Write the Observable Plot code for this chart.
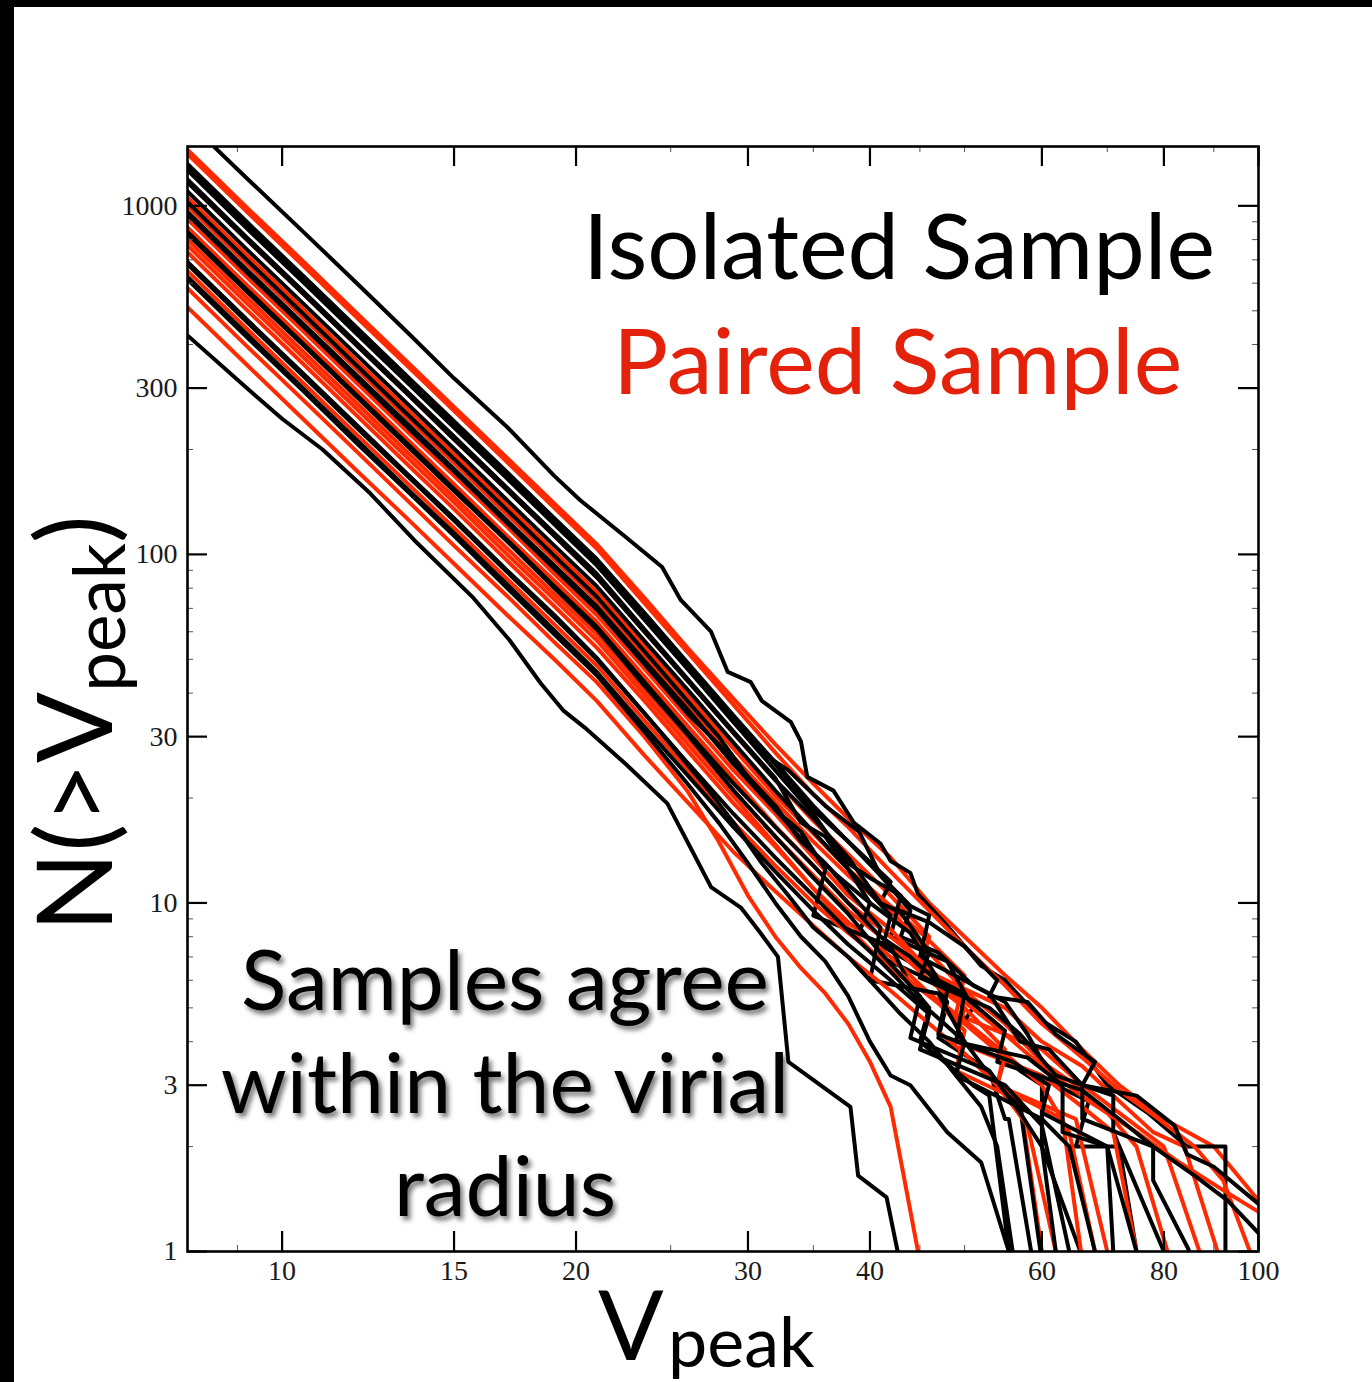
<!DOCTYPE html>
<html>
<head>
<meta charset="utf-8">
<script src="https://cdn.jsdelivr.net/npm/d3@7"></script>
<script src="https://cdn.jsdelivr.net/npm/@observablehq/plot@0.6"></script>
<style>
  html, body { margin: 0; padding: 0; background: #fff; }
  #wrap { position: relative; width: 1372px; height: 1382px; overflow: hidden; background: #fff; }
  #chart { position: absolute; left: 0; top: 0; }
  .bar { position: absolute; background: #000; }
  .ann { position: absolute; white-space: nowrap; font-family: Lato, "Open Sans", sans-serif; line-height: 1; }
  .shadow { text-shadow: 3px 4px 5px rgba(0,0,0,0.55); }
</style>
</head>
<body>
<div id="wrap">
  <div id="chart"></div>
  <div class="bar" style="left:0;top:0;width:1372px;height:7px"></div>
  <div class="bar" style="left:0;top:0;width:14px;height:1382px"></div>
  <div class="ann" style="left:583px;top:198px;font-size:92px;color:#000">Isolated Sample</div>
  <div class="ann" style="left:613px;top:313px;font-size:92px;color:#e4220c">Paired Sample</div>
  <div class="ann shadow" style="left:205px;top:926px;width:600px;text-align:center;font-size:84px;line-height:103px;color:#000">Samples agree<br>within the virial<br>radius</div>
  <div class="ann" style="left:598px;top:1274px;font-size:97px;color:#000">V</div>
  <div class="ann" style="left:668px;top:1305px;font-size:70px;color:#000">peak</div>
  <div class="ann" style="left:19px;top:932px;font-size:105px;color:#000;transform:rotate(-90deg);transform-origin:0 0">N(&gt;V<span style="font-size:71px;position:relative;top:13px">peak</span>)</div>
</div>
<script>
// ---- data: cumulative counts N(>Vpeak) ----
const isolatedRuns = [
  [[8,1750],[9.2,1200],[10.5,845],[12,590],[13.5,428],[15,320],[17,232],[19,168],[20.2,143],[22.5,112],[24.5,92],[25.6,74],[27.5,60],[28.6,46],[30.2,43],[31,38],[33.2,33],[34,29],[34.5,23],[36.7,21],[38.5,17],[41,14.8],[42,13.2],[44,12.2],[44.8,10.6],[48,8.6],[52,6.6],[55,6.0],[60,4.6],[65,4.0],[70,3.0],[77,2.5],[84.5,2.0],[92.5,2.0],[92.5,1]],
  [[8,425],[9.2,300],[10,245],[11,200],[12.3,150],[13.65,110],[15.7,75],[17.1,56.7],[18.4,42.7],[19.4,35.7],[20.4,31.9],[22.5,25],[24.8,19.3],[26.2,14.4],[27.5,11.1],[29.5,9.7],[30.9,8.2],[32.2,7.0],[33,3.5],[38.2,2.6],[38.9,1.65],[41.6,1.43],[42.7,1]],
  [[8,1318],[9.2,900],[10.5,631],[12,440],[13.5,320],[15,241],[17,172],[19,127],[21,97],[23.5,68],[26,49],[29,34.5],[32,25.3],[35,19],[38,15],[42,11.5],[41,10],[46,8.8],[50,7.5],[54,6.0],[53,5.4],[58,5.2],[62,4.2],[68,3.5],[66,3.0],[75,2.8],[82,2.3],[84.5,1.9],[90,1.75],[100,1.37]],
  [[8,1300],[9.2,888],[10.5,623],[12,434],[13.5,316],[15,238],[17,170],[19,126],[21,96],[23.5,67],[26,48],[29,34],[32,25],[35,18.5],[38,15],[41,12],[44,9.5],[43,8],[47,7.2],[51,5.8],[55,5.2],[58,4.2],[62,3.0],[67,2.7],[65,2.0],[72,2.0],[75,1]],
  [[8,1280],[9.2,875],[10.5,614],[12,428],[13.5,312],[15,235],[17,167],[19,124],[21,94.5],[23.5,66],[26,47.5],[29,33],[32,24],[35,18],[38,13],[40,11.8],[43,10.5],[42,8],[48,6.8],[51,5],[50,4.6],[57,3.3],[60,3.0],[60,2.0],[65.7,1]],
  [[8,1265],[9.2,862],[10.5,605],[12,422],[13.5,307],[15,231],[17,165],[19,122],[21,93],[23.5,65],[26,47],[29,33],[31,27],[33,24],[36,19],[39,16],[41,12],[44,9.8],[46,9.2],[45,7],[53,5.5],[57,4.0],[61,3.8],[66,3.0],[71,2.8],[71,2.2],[80,1]],
  [[8,1190],[9.2,812],[10.5,570],[12,397],[13.5,289],[15,218],[17,155],[19,115],[21,88],[23.5,61],[26,44],[29,31],[32,22.8],[34,17],[36,15.5],[38,12.5],[40,10],[39,8.2],[46,6.3],[48,5.2],[47,4.1],[53,3.3],[55,2.4],[55.5,2.4],[58.5,1]],
  [[8,1170],[9.2,800],[10.5,561],[12,391],[13.5,285],[15,214],[17,153],[19,113],[21,86],[23.5,60],[26,43.5],[29,30.7],[32,22.5],[35,17.5],[38,13.5],[41,10],[43,9.4],[46,7.2],[45,6.1],[53,5],[57,4.2],[62,3.2],[66,3.0],[66,2.4],[78,2.0],[86,1.65],[93,1.4],[100,1.13]],
  [[8,1100],[9.2,750],[10.5,526],[12,367],[13.5,267],[15,201],[17,143],[19,106],[21,81],[23.5,56.5],[26,41],[29,28.8],[32,21],[35,16],[38,12.5],[42,9.2],[41,7],[50,5.4],[55,4.3],[54,3.5],[66,2.9],[72,2.4],[78,2.0],[78,1.6],[85,1]],
  [[8,1025],[9.2,700],[10.5,491],[12,342],[13.5,249],[15,188],[17,134],[19,99],[21,75.6],[23.5,52.7],[26,38],[28,30],[30,23],[32,18.5],[34,16],[36,12.5],[35,9.2],[42,7.5],[44,5.8],[46,5],[45,4],[51,3],[53,2.8],[55.5,1]],
  [[8,960],[9.2,656],[10.5,460],[12,321],[13.5,234],[15,176],[17,125],[19,93],[21,71],[23.5,49.5],[26,36],[29,25],[32,18.5],[35,14],[37,12],[40,10],[44,8.2],[47,6],[50,5.5],[49,4],[58,3.6],[63,3.0],[63,2.2],[70,2.0],[71,1]],
  [[8,945],[9.2,645],[10.5,452],[12,315],[13.5,229],[15,173],[17,123],[19,91],[21,69.5],[23.5,48.5],[26,35],[28,28.5],[30,23],[32,19],[34,15],[36,13],[39,10],[41,8.5],[40,6],[47,5.5],[50,4],[54,3],[57,2.6],[59.8,1]],
  [[8,842],[9.2,575],[10.5,403],[12,281],[13.5,205],[15,154],[17,110],[19,81],[21,62],[23.5,43],[26,31],[29,22],[32,16.5],[35,12.8],[38,10],[41,8],[44,7],[48,5.6],[47,4.2],[56,3.5],[61,3.0],[60,2.5],[70,2.0],[75,1]],
  [[8,830],[9.2,568],[10.5,399],[12,278],[13.5,202],[15,152],[17,109],[19,80],[21,61],[23.5,42],[26,30.5],[29,21],[32,15.5],[35,11.8],[38,9.3],[41,7.2],[45,5.4],[44,4.1],[53,3.3],[57,2.5],[60,2.0],[62,1]],
  [[8,690],[9.2,472],[10.5,331],[12,231],[13.5,168],[15,127],[17,90],[19,67],[21,50.5],[23.5,35],[25,28.5],[27,22],[29,17],[31,13],[33,10.5],[35,8.5],[38,7],[40,6],[43,4.8],[46,4.0],[49,3.2],[52,2.6],[54,2.0],[56,1]],
  [[8,680],[9.2,465],[10.5,326],[12,227],[13.5,166],[15,125],[17,89],[19,66],[21,50],[23.5,35],[26,25.3],[29,18],[32,13.5],[35,10.5],[38,8.3],[41,6.8],[45,5.2],[50,4.0],[49,3.2],[60,2.4],[64,2.0],[68,1]],
  [[8,625],[9.2,428],[10.5,300],[12,209],[13.5,152],[15,115],[17,82],[19,60.5],[21,46],[23.5,32],[26,23.3],[29,16.5],[32,12.3],[35,9.5],[38,7.6],[42,6],[46,4.8],[45,3.8],[55,3.0],[60,2.3],[64,1]],
  [[8,615],[9.2,420],[10.5,295],[12,205],[13.5,150],[15,113],[17,80],[19,59],[21,45],[23.5,31],[26,22],[28,17],[30,13],[32,10],[34,8],[36,6.8],[38,5.4],[40,4.0],[42,3.2],[44,3.0],[48,2.2],[52,1.8],[55.5,1]]
];

const pairedRuns = [
  [[8,1450],[9.2,990],[10.5,695],[12,484],[13.5,352],[15,265],[17,189],[19,140],[21,107],[23.5,75],[26,54],[29,38.5],[32,28.5],[35,22],[38,17.5],[42,13.5],[46,10],[50,8],[55,6.2],[60,5],[66,3.8],[72,3.0],[80,2.4],[90,2.0],[100,1.4]],
  [[8,1410],[9.2,963],[10.5,675],[12,470],[13.5,343],[15,258],[17,184],[19,136],[21,104],[23.5,72.5],[26,52.5],[29,37],[32,27],[35,20.5],[38,16.5],[42,12.3],[46,9.5],[50,7.5],[55,5.8],[60,4.5],[66,3.6],[72,2.9],[79,2.4],[86,2.0],[92,1.6],[98,1]],
  [[8,1170],[9.2,800],[10.5,561],[12,391],[13.5,285],[15,214],[17,153],[19,113],[21,86],[23.5,60],[26,43.6],[29,30.7],[32,22.5],[35,17.2],[38,13.8],[42,10.5],[46,8],[45,6.5],[55,5],[60,4],[66,3.4],[72,2.7],[78,2.2],[84,2.0],[90.8,1]],
  [[8,1057],[9.2,722],[10.5,507],[12,353],[13.5,257],[15,194],[17,138],[19,102],[21,78],[23.5,54.5],[26,39.4],[29,27.7],[32,20.3],[35,15.8],[38,12.5],[42,9.8],[46,7.8],[50,6.2],[49,4.8],[60,3.8],[66,3.0],[72,2.5],[80,2.0],[87,1]],
  [[8,1000],[9.2,682],[10.5,479],[12,334],[13.5,243],[15,183],[17,130],[19,96.6],[21,73.7],[23.5,51.4],[26,37.2],[29,26.2],[32,19.5],[35,15],[38,12],[42,9.5],[46,7.2],[50,5.6],[55,4.5],[60,3.5],[65,3.0],[70,2.5],[75,2.0],[80.7,1]],
  [[8,915],[9.2,625],[10.5,438],[12,305],[13.5,222],[15,168],[17,120],[19,88],[21,67],[23.5,47],[26,34],[29,24],[32,18],[35,13.5],[38,10.5],[42,8.4],[46,6.4],[50,5],[55,3.8],[54,3],[63,2.4],[65.8,1]],
  [[8,867],[9.2,593],[10.5,416],[12,290],[13.5,211],[15,159],[17,113],[19,84],[21,64],[23.5,44.6],[26,32.3],[29,22.8],[32,16.6],[35,12.8],[38,10],[42,8],[46,6.5],[50,5.2],[55,4.2],[60,3.4],[67,2.7],[75,2.2],[83,1.8],[92,1.5],[100,1.3]],
  [[8,800],[9.2,546],[10.5,383],[12,267],[13.5,194],[15,146],[17,104],[19,77],[21,59],[23.5,41],[26,29.8],[29,21],[32,15.5],[35,12],[38,9.5],[42,7.6],[46,6],[50,5],[49,4],[60,3.2],[66,2.6],[71,2.2],[75,1]],
  [[8,770],[9.2,526],[10.5,369],[12,257],[13.5,187],[15,141],[17,100],[19,74.3],[21,56.7],[23.5,39.5],[26,28.6],[29,20.2],[32,14.7],[35,11],[38,8.5],[42,6.4],[46,5.5],[50,4.6],[55,3.7],[60,3.0],[64,2.2],[68,1]],
  [[8,736],[9.2,503],[10.5,353],[12,246],[13.5,179],[15,135],[17,96],[19,71],[21,54],[23.5,38],[26,27.4],[29,19.3],[32,14.5],[35,11],[38,8.8],[42,7],[46,5.5],[50,4.3],[49,3.3],[57,2.7],[60,1]],
  [[8,650],[9.2,444],[10.5,311],[12,217],[13.5,158],[15,119],[17,85],[19,63],[21,48],[23.5,33.4],[26,24.2],[29,17],[32,12.8],[35,10],[38,8.2],[42,6.6],[46,5.4],[50,4.5],[55,3.6],[54,3.0],[65,2.4],[70,1]],
  [[8,580],[9.2,396],[10.5,278],[12,194],[13.5,141],[15,106],[17,76],[19,56],[21,43],[23.5,30],[26,21],[28,15],[30,10.5],[32,8],[34,6.5],[36,5.5],[38,4.5],[40,3.5],[42,2.6],[44.8,1]],
  [[8,512],[9.2,350],[10.5,245],[12,171],[13.5,125],[15,94],[17,67],[19,50],[21,38],[23.5,26.5],[26,19.5],[29,14],[32,10.8],[35,8.6],[38,7],[42,5.6],[46,4.5],[50,3.7],[54,3],[58,2.3],[62,1]]
];

const xTickValues = [10, 15, 20, 30, 40, 60, 80, 100];
const xMinorValues = [9, 25, 35, 45, 50, 70, 90];
const yTickValues = [1, 3, 10, 30, 100, 300, 1000];
const yMinorValues = [2, 4, 5, 6, 7, 8, 9, 20, 40, 50, 60, 70, 80, 90, 200, 400, 500, 600, 700, 800, 900];

const isolatedColor = "#000000";
const pairedColor = "#ff2a00";

// ---- build tables ----
const toRows = (run, id) => run.map(([V, N]) => ({V, N, id}));
const lineMarks = [];
const nMax = Math.max(isolatedRuns.length, pairedRuns.length);
for (let i = 0; i < nMax; i++) {
  if (i < pairedRuns.length)
    lineMarks.push(Plot.line(toRows(pairedRuns[i], "p" + i), {x: "V", y: "N", stroke: pairedColor, strokeWidth: 4, strokeLinejoin: "round", clip: true}));
  if (i < isolatedRuns.length)
    lineMarks.push(Plot.line(toRows(isolatedRuns[i], "i" + i), {x: "V", y: "N", stroke: isolatedColor, strokeWidth: 4, strokeLinejoin: "round", clip: true}));
}

const W = 1372, H = 1382;
const mL = 187, mT = 146, mR = 114, mB = 131;
const plotW = W - mL - mR, plotH = H - mT - mB;
const major = 20, minor = 6;

const chart = Plot.plot({
  width: W, height: H,
  marginLeft: mL, marginTop: mT, marginRight: mR, marginBottom: mB,
  x: {type: "log", domain: [8, 100]},
  y: {type: "log", domain: [1, 1480]},
  style: {background: "transparent", fontFamily: "'Liberation Serif', 'DejaVu Serif', serif", fontSize: "28px", color: "#1a1a1a"},
  marks: [
    ...lineMarks,
    Plot.ruleX(xTickValues, {stroke: "#000", strokeWidth: 2.2, insetTop: plotH - major}),
    Plot.ruleX(xTickValues, {stroke: "#000", strokeWidth: 2.2, insetBottom: plotH - major}),
    Plot.ruleY(yTickValues, {stroke: "#000", strokeWidth: 2.2, insetRight: plotW - major}),
    Plot.ruleY(yTickValues, {stroke: "#000", strokeWidth: 2.2, insetLeft: plotW - major}),
    Plot.ruleX(xMinorValues, {stroke: "#555", strokeWidth: 1, insetTop: plotH - minor}),
    Plot.ruleX(xMinorValues, {stroke: "#555", strokeWidth: 1, insetBottom: plotH - minor}),
    Plot.ruleY(yMinorValues, {stroke: "#555", strokeWidth: 1, insetRight: plotW - minor}),
    Plot.ruleY(yMinorValues, {stroke: "#555", strokeWidth: 1, insetLeft: plotW - minor}),
    Plot.frame({stroke: "#000", strokeWidth: 2.6}),
    Plot.axisX({ticks: xTickValues, tickSize: 0, tickPadding: 9, tickFormat: d => String(d), label: null}),
    Plot.axisY({ticks: yTickValues, tickSize: 0, tickPadding: 10, tickFormat: d => String(d), label: null})
  ]
});
document.getElementById("chart").appendChild(chart);
</script>
</body>
</html>
